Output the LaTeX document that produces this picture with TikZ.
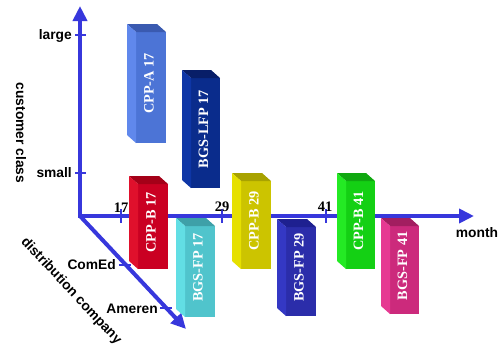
\documentclass[tikz,border=0pt]{standalone}
\usepackage{fontspec}
\setmainfont{Liberation Serif}
\setsansfont{Liberation Sans}
\usetikzlibrary{arrows.meta}

% axis colour
\definecolor{axisblue}{RGB}{55,55,220}
% face colours of the prisms: front, side (left), top
\definecolor{cppafront}{RGB}{76,116,214}
\definecolor{cppaside}{RGB}{96,136,236}
\definecolor{cppatop}{RGB}{58,90,176}
\definecolor{lfpfront}{RGB}{10,44,140}
\definecolor{lfpside}{RGB}{14,54,166}
\definecolor{lfptop}{RGB}{8,30,104}
\definecolor{cppbfront}{RGB}{202,0,34}
\definecolor{cppbside}{RGB}{224,16,44}
\definecolor{cppbtop}{RGB}{164,0,24}
\definecolor{fpafront}{RGB}{80,196,204}
\definecolor{fpaside}{RGB}{98,222,228}
\definecolor{fpatop}{RGB}{62,160,168}
\definecolor{cppcfront}{RGB}{204,196,0}
\definecolor{cppcside}{RGB}{230,224,0}
\definecolor{cppctop}{RGB}{168,162,0}
\definecolor{fpbfront}{RGB}{43,45,170}
\definecolor{fpbside}{RGB}{52,56,196}
\definecolor{fpbtop}{RGB}{30,32,144}
\definecolor{cppdfront}{RGB}{20,208,20}
\definecolor{cppdside}{RGB}{36,234,36}
\definecolor{cppdtop}{RGB}{16,168,16}
\definecolor{fpcfront}{RGB}{204,42,124}
\definecolor{fpcside}{RGB}{230,58,146}
\definecolor{fpctop}{RGB}{162,30,96}

\tikzset{
  axis/.style={draw=axisblue, line width=4pt},
  axistip/.style={-{Triangle[length=15pt,width=14pt]}},
  tickmark/.style={draw=axisblue, line width=2pt},
  axislabel/.style={font=\sffamily\bfseries\fontsize{13.8}{14}\selectfont, inner sep=0pt},
  numlabel/.style={font=\bfseries\fontsize{14.5}{15}\selectfont, inner sep=0pt},
  frontface/.style={inner sep=0pt, outer sep=0pt, draw=none},
  boxlabel/.style={rotate=90, text=white, inner sep=0pt,
    font=\bfseries\fontsize{14.3}{15}\selectfont},
}

% prism: name, x1, y1, x2, y2 (front face), colour prefix, label
\newcommand\prismbox[7]{%
  \node[frontface, fill=#6front, minimum width={#4-#2}, minimum height={#5-#3}]
    (#1) at ({(#2+#4)/2},{(#3+#5)/2}) {};
  \fill[#6top] (#1.north west) -- ++(-9,-8) -- ([shift={(-9,-8)}]#1.north east)
    -- (#1.north east) -- cycle;
  \fill[#6side] (#1.north west) -- ++(-9,-8) -- ([shift={(-9,-8)}]#1.south west)
    -- (#1.south west) -- cycle;
  \node[boxlabel] (#1-label) at ([shift={(-2,-4)}]#1.center) {#7};
}

\begin{document}
\begin{tikzpicture}[x=1pt, y=-1pt]
\useasboundingbox[fill=white] (0,0) rectangle (502,349);

% axes
\coordinate (O) at (80,216);
\coordinate (yend) at (80,6);
\coordinate (xend) at (474,216);
\coordinate (dend) at (186,329);
\draw[axis, {Triangle[length=15pt,width=14pt]}-{Triangle[length=15pt,width=14pt]}]
  (yend) -- (O) -- (xend);
\draw[axis, axistip] (O) -- (dend);

% ticks on the customer class axis
\coordinate (tlarge) at (80,35);
\coordinate (tsmall) at (80,173);
\draw[tickmark] ([shift={(-5,0)}]tlarge) -- ([shift={(6,0)}]tlarge);
\draw[tickmark] ([shift={(-5,0)}]tsmall) -- ([shift={(6,0)}]tsmall);
\node[axislabel, anchor=base east] (large) at (72,39) {large};
\node[axislabel, anchor=base east] (small) at (72,177) {small};

% ticks on the month axis
\coordinate (t17) at (121,216);
\coordinate (t29) at (222,216);
\coordinate (t41) at (326,216);
\foreach \t in {t17,t29,t41}
  \draw[tickmark] ([shift={(0,-7)}]\t) -- ([shift={(0,7)}]\t);
\node[numlabel, anchor=base] (n17) at (121,212) {17};
\node[numlabel, anchor=base] (n29) at (222,211) {29};
\node[numlabel, anchor=base] (n41) at (325,211) {41};

% ticks on the distribution company axis
\coordinate (tcomed) at (125,265);
\coordinate (tameren) at (166,308);
\draw[tickmark] ([shift={(-6,0)}]tcomed) -- ([shift={(6,0)}]tcomed);
\draw[tickmark] ([shift={(-6,0)}]tameren) -- ([shift={(6,0)}]tameren);
\node[axislabel, anchor=base east] (comed) at (116,269) {ComEd};
\node[axislabel, anchor=base east] (ameren) at (158,313) {Ameren};

% axis titles
\node[axislabel, anchor=base] (month) at (477,237) {month};
\node[axislabel, rotate=-90] (cclass) at (21,133) {customer class};
\node[axislabel, rotate=-47] (dcomp) at (71,291) {distribution company};

% tariff prisms
\prismbox{cppa17}{136}{32}{166}{143}{cppa}{CPP-A 17}
\prismbox{bgslfp17}{191}{78}{220}{188}{lfp}{BGS-LFP 17}
\prismbox{cppb17}{138}{184}{168}{269}{cppb}{CPP-B 17}
\prismbox{bgsfp17}{185}{226}{215}{317}{fpa}{BGS-FP 17}
\prismbox{cppb29}{241}{181}{271}{269}{cppc}{CPP-B 29}
\prismbox{bgsfp29}{286}{227}{316}{316}{fpb}{BGS-FP 29}
\prismbox{cppb41}{346}{181}{375}{269}{cppd}{CPP-B 41}
\prismbox{bgsfp41}{390}{226}{419}{314}{fpc}{BGS-FP 41}
\end{tikzpicture}
\end{document}
